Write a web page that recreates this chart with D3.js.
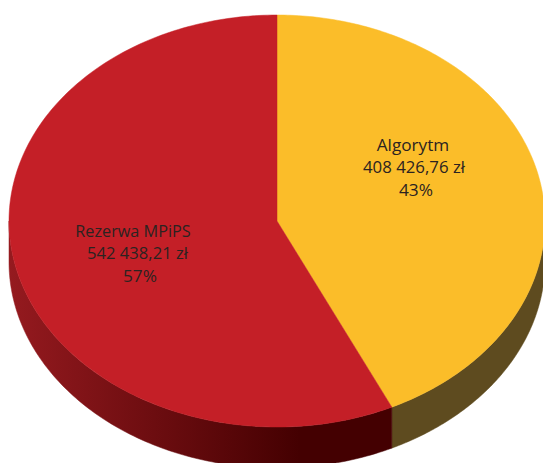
<!DOCTYPE html>
<html>
<head>
<meta charset="utf-8">
<script src="https://cdn.jsdelivr.net/npm/d3@7"></script>
<style>
  html, body { margin: 0; padding: 0; background: #ffffff; }
  svg { display: block; }
</style>
</head>
<body>
<svg id="chart" width="543" height="463"></svg>
<script>
// ---- data ----
const categories = ["Algorytm", "Rezerwa MPiPS"];
const values = [408426.76, 542438.21];
const amountLabels = ["408 426,76 zł", "542 438,21 zł"];
const percentLabels = ["43%", "57%"];

// ---- layout / style ----
const W = 543, H = 463;
const cx = 277, cy = 221, rx = 268, ry = 206, depth = 41;
const topColors = ["#FBBD29", "#C41F27"];
const sideColors = ["#5E4B1F", "url(#redSide)"];
// label line centres (x per line) and first baseline
const labelLayout = [
  { xs: [413, 414, 416], y: 150.5 },
  { xs: [133, 137.5, 140], y: 236.5 }
];
const lineGap = 22.5;

const svg = d3.select("#chart");
svg.append("rect").attr("width", W).attr("height", H).attr("fill", "#fff");

const defs = svg.append("defs");
const grad = defs.append("linearGradient")
  .attr("id", "redSide").attr("gradientUnits", "userSpaceOnUse")
  .attr("x1", 9).attr("y1", 0).attr("x2", 300).attr("y2", 0);
grad.append("stop").attr("offset", 0).attr("stop-color", "#951A1F");
grad.append("stop").attr("offset", 1).attr("stop-color", "#440001");

const pie = d3.pie().sort(null).startAngle(0).endAngle(2 * Math.PI);
const arcs = pie(values);

// elliptical projection scales: unit circle -> pixels
const sx = d3.scaleLinear().domain([-1, 1]).range([cx - rx, cx + rx]);
const sy = d3.scaleLinear().domain([-1, 1]).range([cy - ry, cy + ry]);
const pt = (a, dz) => [sx(Math.sin(a)), sy(-Math.cos(a)) + (dz || 0)];

const line = d3.line();

// ---- sides (front half only: angles PI/2 .. 3PI/2) ----
const gSide = svg.append("g");
arcs.forEach((d, i) => {
  const s = Math.max(d.startAngle, Math.PI / 2);
  const e = Math.min(d.endAngle, 3 * Math.PI / 2);
  if (e <= s) return;
  const n = 120;
  const topPts = d3.range(n + 1).map(k => pt(s + (e - s) * k / n, 0));
  const botPts = d3.range(n + 1).map(k => pt(e - (e - s) * k / n, depth));
  gSide.append("path")
    .attr("d", line(topPts.concat(botPts)) + "Z")
    .attr("fill", sideColors[i])
    .attr("stroke", sideColors[i]).attr("stroke-width", 0.5);
});

// ---- top faces ----
const gTop = svg.append("g");
arcs.forEach((d, i) => {
  const n = 200;
  const pts = [[cx, cy]].concat(
    d3.range(n + 1).map(k => pt(d.startAngle + (d.endAngle - d.startAngle) * k / n, 0)));
  gTop.append("path")
    .attr("d", line(pts) + "Z")
    .attr("fill", topColors[i])
    .attr("stroke", topColors[i]).attr("stroke-width", 0.5);
});

// ---- labels ----
const gLab = svg.append("g")
  .attr("font-family", "'Open Sans', 'Noto Sans', sans-serif")
  .attr("font-size", 16.5)
  .attr("fill", "#2B2321")
  .attr("text-anchor", "middle");
const targetW = [[72.6, 102, 34], [115.5, 101, 34]];
arcs.forEach((d, i) => {
  const L = labelLayout[i];
  const lines = [categories[i], amountLabels[i], percentLabels[i]];
  lines.forEach((t, j) => {
    gLab.append("text")
      .attr("x", L.xs[j])
      .attr("y", L.y + j * lineGap)
      .attr("textLength", targetW[i][j])
      .attr("lengthAdjust", "spacingAndGlyphs")
      .text(t);
  });
});
</script>
</body>
</html>
